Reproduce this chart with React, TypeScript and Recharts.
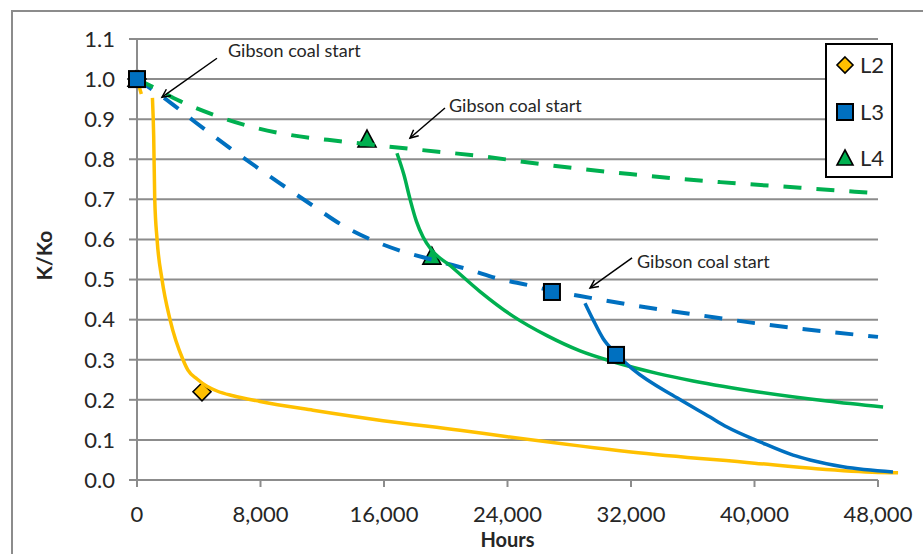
import React from 'react';
import {
  ComposedChart,
  Line,
  Scatter,
  XAxis,
  YAxis,
  ReferenceLine,
  ReferenceDot,
  Legend,
} from 'recharts';

type Pt = { h: number; v: number | null };

// ---- axis ticks ----
const xTicks = [0, 8000, 16000, 24000, 32000, 40000, 48000];
const yTicks = [0, 0.1, 0.2, 0.3, 0.4, 0.5, 0.6, 0.7, 0.8, 0.9, 1.0, 1.1];
const X_MAX = 49400;

// ---- series names ----
const seriesNames = ['L2', 'L3', 'L4'];

// ---- L2 (solid line) ----
const l2Line: Pt[] = [
  { h: 0, v: 1.0 },
  { h: 280, v: 0.963 },
  { h: 600, v: null },
  { h: 1000, v: 0.953 },
  { h: 1080, v: 0.86 },
  { h: 1150, v: 0.7 },
  { h: 1300, v: 0.6 },
  { h: 1620, v: 0.5 },
  { h: 2140, v: 0.4 },
  { h: 2980, v: 0.3 },
  { h: 3300, v: 0.274 },
  { h: 3890, v: 0.252 },
  { h: 4530, v: 0.234 },
  { h: 5180, v: 0.222 },
  { h: 6220, v: 0.21 },
  { h: 7970, v: 0.196 },
  { h: 11400, v: 0.174 },
  { h: 15940, v: 0.148 },
  { h: 20920, v: 0.124 },
  { h: 24000, v: 0.108 },
  { h: 32000, v: 0.07 },
  { h: 40000, v: 0.042 },
  { h: 44000, v: 0.028 },
  { h: 48000, v: 0.019 },
  { h: 49300, v: 0.018 },
];
const l2Points: Pt[] = [
  { h: 0, v: 1.0 },
  { h: 4210, v: 0.22 },
];

// ---- L3 ----
const l3Dashed: Pt[] = [
  { h: 0, v: 1.0 },
  { h: 2140, v: 0.942 },
  { h: 3760, v: 0.893 },
  { h: 6025, v: 0.828 },
  { h: 9260, v: 0.74 },
  { h: 11400, v: 0.684 },
  { h: 13280, v: 0.636 },
  { h: 14960, v: 0.603 },
  { h: 17040, v: 0.572 },
  { h: 19175, v: 0.549 },
  { h: 21570, v: 0.524 },
  { h: 23320, v: 0.503 },
  { h: 25460, v: 0.485 },
  { h: 26880, v: 0.472 },
  { h: 28700, v: 0.459 },
  { h: 31940, v: 0.437 },
  { h: 36470, v: 0.411 },
  { h: 40680, v: 0.388 },
  { h: 45220, v: 0.368 },
  { h: 48000, v: 0.357 },
];
const l3Solid: Pt[] = [
  { h: 29020, v: 0.441 },
  { h: 29540, v: 0.4 },
  { h: 30190, v: 0.353 },
  { h: 31030, v: 0.315 },
  { h: 32130, v: 0.276 },
  { h: 34980, v: 0.205 },
  { h: 37120, v: 0.157 },
  { h: 38220, v: 0.132 },
  { h: 40360, v: 0.095 },
  { h: 42500, v: 0.062 },
  { h: 43600, v: 0.05 },
  { h: 45730, v: 0.033 },
  { h: 48970, v: 0.02 },
];
const l3Points: Pt[] = [
  { h: 0, v: 1.0 },
  { h: 26880, v: 0.469 },
  { h: 31030, v: 0.312 },
];

// ---- L4 ----
const l4Dashed: Pt[] = [
  { h: 0, v: 1.0 },
  { h: 840, v: 0.984 },
  { h: 2790, v: 0.945 },
  { h: 5380, v: 0.905 },
  { h: 7320, v: 0.882 },
  { h: 9720, v: 0.862 },
  { h: 13150, v: 0.845 },
  { h: 15290, v: 0.836 },
  { h: 17690, v: 0.826 },
  { h: 22220, v: 0.808 },
  { h: 26750, v: 0.785 },
  { h: 31940, v: 0.763 },
  { h: 37770, v: 0.743 },
  { h: 42950, v: 0.729 },
  { h: 48000, v: 0.715 },
];
const l4Solid: Pt[] = [
  { h: 16840, v: 0.815 },
  { h: 17300, v: 0.76 },
  { h: 17690, v: 0.7 },
  { h: 18100, v: 0.645 },
  { h: 18530, v: 0.606 },
  { h: 19070, v: 0.574 },
  { h: 20280, v: 0.535 },
  { h: 22220, v: 0.47 },
  { h: 24300, v: 0.41 },
  { h: 26560, v: 0.36 },
  { h: 28700, v: 0.322 },
  { h: 30840, v: 0.295 },
  { h: 33690, v: 0.266 },
  { h: 36020, v: 0.247 },
  { h: 40360, v: 0.219 },
  { h: 44700, v: 0.197 },
  { h: 48330, v: 0.182 },
];
const l4Points: Pt[] = [
  { h: 0, v: 1.0 },
  { h: 14900, v: 0.848 },
  { h: 19100, v: 0.556 },
];

// ---- annotations (data coordinates) ----
const annotationText = 'Gibson coal start';
const annTails = [
  { h: 5180, v: 1.052 },
  { h: 19950, v: 0.928 },
  { h: 32070, v: 0.554 },
];
const annHeads = [
  { h: 1620, v: 0.955 },
  { h: 17685, v: 0.853 },
  { h: 29350, v: 0.479 },
];
const annLabels = [
  { h: 5895, v: 1.072 },
  { h: 20210, v: 0.935 },
  { h: 32390, v: 0.546 },
];

// ---- styles ----
const YELLOW = '#FFC000';
const BLUE = '#0070C0';
const GREEN = '#00B050';
const GRID = '#8c8c8c';
const TEXT = '#262626';
const FONT = 'Lato, "Open Sans", sans-serif';

const W = 923;
const H = 554;
const PLOT_LEFT = 137;
const PLOT_TOP = 39;
const PLOT_BOTTOM = 480;
const PX_PER_HOUR = 123.5 / 8000;
const PLOT_W = X_MAX * PX_PER_HOUR;

const Diamond = ({ cx, cy, s = 9 }: { cx: number; cy: number; s?: number }) => (
  <polygon
    points={`${cx},${cy - s} ${cx + s},${cy} ${cx},${cy + s} ${cx - s},${cy}`}
    fill={YELLOW}
    stroke="#000"
    strokeWidth={1.6}
  />
);
const Square = ({ cx, cy, s = 8 }: { cx: number; cy: number; s?: number }) => (
  <rect x={cx - s} y={cy - s} width={2 * s} height={2 * s} fill={BLUE} stroke="#000" strokeWidth={2} />
);
const Triangle = ({ cx, cy, s = 9 }: { cx: number; cy: number; s?: number }) => (
  <polygon
    points={`${cx},${cy - s - 1} ${cx + s},${cy + s - 2} ${cx - s},${cy + s - 2}`}
    fill={GREEN}
    stroke="#000"
    strokeWidth={1.6}
  />
);

const ArrowShape = (p: any) => {
  const { x1, y1, x2, y2 } = p;
  const ang = Math.atan2(y2 - y1, x2 - x1);
  const len = 9;
  const spread = 0.45;
  const ax = x2 - len * Math.cos(ang - spread);
  const ay = y2 - len * Math.sin(ang - spread);
  const bx = x2 - len * Math.cos(ang + spread);
  const by = y2 - len * Math.sin(ang + spread);
  return (
    <g>
      <line x1={x1} y1={y1} x2={x2} y2={y2} stroke="#000" strokeWidth={1.5} />
      <polyline points={`${ax},${ay} ${x2},${y2} ${bx},${by}`} fill="none" stroke="#000" strokeWidth={1.5} />
    </g>
  );
};

const LabelShape = (p: any) => (
  <text
    x={p.cx}
    y={p.cy}
    fontFamily={FONT}
    fontSize={18}
    fill={TEXT}
    textAnchor="start"
    dominantBaseline="central"
  >
    {annotationText}
  </text>
);

const LegendContent = () => {
  const icons = [
    <svg width={20} height={20} key="d"><Diamond cx={10} cy={10} s={8} /></svg>,
    <svg width={20} height={20} key="s"><Square cx={10} cy={10} s={8} /></svg>,
    <svg width={20} height={20} key="t"><Triangle cx={10} cy={11} s={8} /></svg>,
  ];
  return (
    <div
      style={{
        width: 64,
        height: 131,
        border: '2px solid #000',
        background: '#fff',
        position: 'relative',
        fontFamily: FONT,
        fontSize: 22,
        color: TEXT,
      }}
    >
      {seriesNames.map((n, i) => (
        <div
          key={n}
          style={{
            position: 'absolute',
            left: 8,
            top: 20 + i * 46.5 - 12,
            height: 24,
            display: 'flex',
            alignItems: 'center',
            gap: 5,
          }}
        >
          {icons[i]}
          <span style={{ lineHeight: '24px' }}>{n}</span>
        </div>
      ))}
    </div>
  );
};

const YLabel = (props: any) => {
  const vb = props.viewBox || { x: 11, y: PLOT_TOP, width: 126, height: PLOT_BOTTOM - PLOT_TOP };
  const x = vb.x + 32;
  const y = vb.y + vb.height / 2 - 4;
  return (
    <text
      x={x}
      y={y}
      transform={`rotate(-90, ${x}, ${y})`}
      textAnchor="middle"
      dominantBaseline="central"
      fontFamily={FONT}
      fontWeight="bold"
      fontSize={21}
      fill={TEXT}
    >
      K/Ko
    </text>
  );
};

const XLabel = (props: any) => {
  const vb = props.viewBox || { x: PLOT_LEFT, y: PLOT_BOTTOM, width: PLOT_W, height: 50 };
  const x = vb.x + vb.width * (24000 / X_MAX);
  const y = vb.y + 67;
  return (
    <text x={x} y={y} textAnchor="middle" fontFamily={FONT} fontWeight="bold" fontSize={20} fill={TEXT}>
      Hours
    </text>
  );
};

export default function App() {
  const marginRight = W - PLOT_LEFT - PLOT_W;
  return (
    <div style={{ position: 'absolute', left: 0, top: 0, width: W, height: H, background: '#fff', overflow: 'hidden' }}>
      <div
        style={{
          position: 'absolute',
          left: 11,
          top: 10,
          width: W - 11,
          height: H - 10,
          borderTop: '2px solid #8c8c8c',
          borderLeft: '2px solid #8c8c8c',
          boxSizing: 'border-box',
        }}
      />
      <div style={{ position: 'absolute', left: 0, top: 0 }}>
        <ComposedChart
          width={W}
          height={H}
          margin={{ top: PLOT_TOP, right: marginRight, bottom: H - PLOT_BOTTOM - 50, left: 11 }}
        >
          <XAxis
            type="number"
            dataKey="h"
            domain={[0, X_MAX]}
            ticks={xTicks}
            interval={0}
            tickFormatter={(v: number) => v.toLocaleString('en-US')}
            axisLine={false}
            tickLine={{ stroke: GRID, strokeWidth: 2 }}
            tickSize={7}
            tickMargin={19}
            height={50}
            tick={{ fontFamily: FONT, fontSize: 22, fill: TEXT }}
            label={XLabel}
          />
          <YAxis
            type="number"
            dataKey="v"
            domain={[0, 1.1]}
            ticks={yTicks}
            interval={0}
            tickFormatter={(v: number) => v.toFixed(1)}
            axisLine={{ stroke: GRID, strokeWidth: 2 }}
            tickLine={{ stroke: GRID, strokeWidth: 2 }}
            tickSize={8}
            tickMargin={14}
            width={126}
            tick={{ fontFamily: FONT, fontSize: 22, fill: TEXT }}
            label={YLabel}
          />
          {yTicks.map((t) => (
            <ReferenceLine
              key={`g${t}`}
              segment={[
                { x: 0, y: t },
                { x: 48000, y: t },
              ]}
              stroke={GRID}
              strokeWidth={2}
              zIndex={-50}
            />
          ))}

          <Scatter data={l2Points} isAnimationActive={false} shape={(p: any) => <Diamond cx={p.cx} cy={p.cy} />} zIndex={350} />
          <Scatter data={l4Points} isAnimationActive={false} shape={(p: any) => <Triangle cx={p.cx} cy={p.cy} />} zIndex={350} />

          <Line data={l2Line} dataKey="v" type="monotone" stroke={YELLOW} strokeWidth={3.5} dot={false} activeDot={false} isAnimationActive={false} connectNulls={false} />
          <Line data={l3Dashed} dataKey="v" type="monotone" stroke={BLUE} strokeWidth={4} strokeDasharray="18 15" dot={false} activeDot={false} isAnimationActive={false} />
          <Line data={l4Dashed} dataKey="v" type="monotone" stroke={GREEN} strokeWidth={4} strokeDasharray="18 15" dot={false} activeDot={false} isAnimationActive={false} />
          <Line data={l4Solid} dataKey="v" type="monotone" stroke={GREEN} strokeWidth={3.5} dot={false} activeDot={false} isAnimationActive={false} />
          <Line data={l3Solid} dataKey="v" type="monotone" stroke={BLUE} strokeWidth={3.5} dot={false} activeDot={false} isAnimationActive={false} />

          <Scatter data={l3Points} isAnimationActive={false} shape={(p: any) => <Square cx={p.cx} cy={p.cy} />} zIndex={700} />

          {annTails.map((t, i) => (
            <ReferenceLine
              key={`a${i}`}
              segment={[
                { x: t.h, y: t.v },
                { x: annHeads[i].h, y: annHeads[i].v },
              ]}
              shape={ArrowShape}
              zIndex={800}
            />
          ))}
          {annLabels.map((l, i) => (
            <ReferenceDot key={`l${i}`} x={l.h} y={l.v} r={0} shape={LabelShape} zIndex={800} />
          ))}

          <Legend
            layout="vertical"
            align="center"
            verticalAlign="middle"
            wrapperStyle={{ left: 825, top: 43, width: 68, height: 135 }}
            content={LegendContent}
          />
        </ComposedChart>
      </div>
    </div>
  );
}
